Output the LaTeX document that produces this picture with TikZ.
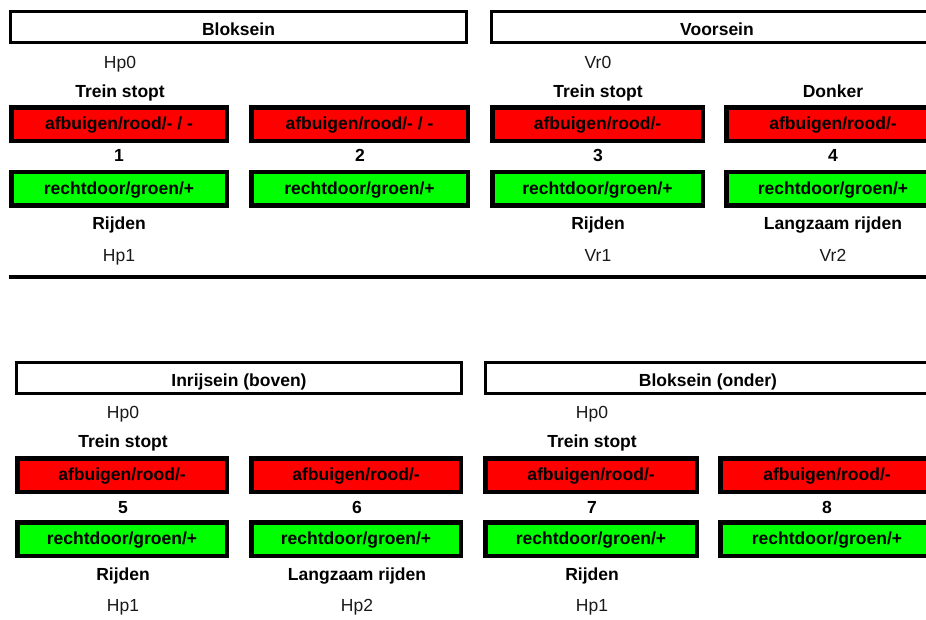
\documentclass[tikz,border=0pt]{standalone}
\usepackage{fontspec}
\setmainfont{Liberation Sans}
\begin{document}
\begin{tikzpicture}[x=1pt,y=-1pt,
  every node/.style={inner sep=0pt,outer sep=0pt,font=\fontsize{17.5pt}{21pt}\selectfont},
  lbl/.style={anchor=base,font=\fontsize{17.5pt}{21pt}\selectfont\bfseries},
  code/.style={anchor=base,text=black!90},
  header/.style={draw=black,line width=3pt,fill=white,minimum height=31pt,text height=19pt,text depth=2pt,font=\fontsize{17.5pt}{21pt}\selectfont\bfseries},
  redbox/.style={draw=black,line width=4.5pt,fill=red,minimum height=33.5pt,text height=13pt,text depth=2pt,font=\fontsize{17.5pt}{21pt}\selectfont\bfseries},
  greenbox/.style={draw=black,line width=4.5pt,fill=green,minimum height=33.5pt,text height=13pt,text depth=2pt,font=\fontsize{17.5pt}{21pt}\selectfont\bfseries}
]
\useasboundingbox (0,0) rectangle (926,619);
\clip (0,0) rectangle (926,619);
% ---------- top section ----------
\node[header,minimum width=456pt] (h1) at (238.5,27) {Bloksein};
\node[header,minimum width=451pt] (h2) at (717,27) {Voorsein};
\node[code] (c1) at (120,68) {Hp0};
\node[code] (c3) at (598,68) {Vr0};
\node[lbl] (t1) at (120,97) {Trein stopt};
\node[lbl] (t3) at (598,97) {Trein stopt};
\node[lbl] (t4) at (833,97) {Donker};
\node[redbox,minimum width=215.5pt] (r1) at (119,124) {afbuigen/rood/- / -};
\node[redbox,minimum width=216.5pt] (r2) at (359.5,124) {afbuigen/rood/- / -};
\node[redbox,minimum width=210.5pt] (r3) at (597.5,124) {afbuigen/rood/-};
\node[redbox,minimum width=213.5pt] (r4) at (833,124) {afbuigen/rood/-};
\node[lbl] (n1) at (119,161.5) {1};
\node[lbl] (n2) at (360,161.5) {2};
\node[lbl] (n3) at (598,161.5) {3};
\node[lbl] (n4) at (833,161.5) {4};
\node[greenbox,minimum width=215.5pt] (g1) at (119,188.5) {rechtdoor/groen/+};
\node[greenbox,minimum width=216.5pt] (g2) at (359.5,188.5) {rechtdoor/groen/+};
\node[greenbox,minimum width=210.5pt] (g3) at (597.5,188.5) {rechtdoor/groen/+};
\node[greenbox,minimum width=213.5pt] (g4) at (833,188.5) {rechtdoor/groen/+};
\node[lbl] (d1) at (119,229) {Rijden};
\node[lbl] (d3) at (598,229) {Rijden};
\node[lbl] (d4) at (833,229) {Langzaam rijden};
\node[code] (e1) at (119,261.5) {Hp1};
\node[code] (e3) at (598,261.5) {Vr1};
\node[code] (e4) at (833,261.5) {Vr2};
\coordinate (sepL) at (9,277);
\coordinate (sepR) at (930,277);
\draw[line width=4pt] (sepL) -- (sepR);
% ---------- bottom section ----------
\node[header,minimum width=445pt,text height=18pt] (h3) at (239,378) {Inrijsein (boven)};
\node[header,minimum width=445pt,text height=18pt] (h4) at (708,378) {Bloksein (onder)};
\node[code] (c5) at (123,418) {Hp0};
\node[code] (c7) at (592,418) {Hp0};
\node[lbl] (t5) at (123,447) {Trein stopt};
\node[lbl] (t7) at (592,447) {Trein stopt};
\node[redbox,minimum width=209.5pt] (r5) at (122,475) {afbuigen/rood/-};
\node[redbox,minimum width=209.5pt] (r6) at (356,475) {afbuigen/rood/-};
\node[redbox,minimum width=211.5pt] (r7) at (591,475) {afbuigen/rood/-};
\node[redbox,minimum width=213.5pt] (r8) at (827,475) {afbuigen/rood/-};
\node[lbl] (n5) at (123,513) {5};
\node[lbl] (n6) at (357,513) {6};
\node[lbl] (n7) at (592,513) {7};
\node[lbl] (n8) at (827,513) {8};
\node[greenbox,minimum width=209.5pt] (g5) at (122,539) {rechtdoor/groen/+};
\node[greenbox,minimum width=209.5pt] (g6) at (356,539) {rechtdoor/groen/+};
\node[greenbox,minimum width=211.5pt] (g7) at (591,539) {rechtdoor/groen/+};
\node[greenbox,minimum width=213.5pt] (g8) at (827,539) {rechtdoor/groen/+};
\node[lbl] (d5) at (123,580) {Rijden};
\node[lbl] (d6) at (357,580) {Langzaam rijden};
\node[lbl] (d7) at (592,580) {Rijden};
\node[code] (e5) at (123,611.5) {Hp1};
\node[code] (e6) at (357,611.5) {Hp2};
\node[code] (e7) at (592,611.5) {Hp1};
\end{tikzpicture}
\end{document}
